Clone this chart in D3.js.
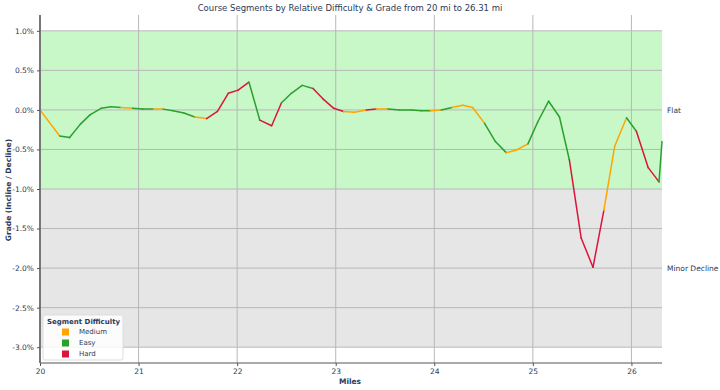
<!DOCTYPE html>
<html>
<head>
<meta charset="utf-8">
<script src="https://cdn.jsdelivr.net/npm/d3@7"></script>
<style>
  body { margin: 0; background: #fff; }
  svg { font-family: "DejaVu Sans", sans-serif; }
</style>
</head>
<body>
<script>
// mile marker, grade (%) and difficulty of the segment that starts there
var miles = [20.00,20.20,20.30,20.41,20.51,20.62,20.72,20.82,20.94,21.04,21.15,21.25,21.35,21.46,21.57,21.69,21.80,21.91,22.01,22.12,
             22.23,22.35,22.45,22.55,22.66,22.77,22.87,22.98,23.08,23.19,23.31,23.41,23.53,23.65,23.77,23.87,23.96,24.07,24.18,24.29,
             24.39,24.51,24.62,24.73,24.83,24.95,25.05,25.16,25.27,25.37,25.49,25.61,25.72,25.83,25.95,26.05,26.17,26.28,26.31];
var grades = [0.00,-0.33,-0.35,-0.18,-0.06,0.02,0.04,0.03,0.02,0.01,0.01,0.01,-0.01,-0.04,-0.09,-0.11,-0.02,0.21,0.25,0.35,
              -0.13,-0.20,0.09,0.21,0.31,0.27,0.14,0.02,-0.02,-0.03,0.00,0.01,0.01,0.00,0.00,-0.01,-0.01,0.00,0.03,0.06,
              0.03,-0.17,-0.40,-0.54,-0.51,-0.43,-0.15,0.11,-0.09,-0.63,-1.62,-1.99,-1.27,-0.46,-0.10,-0.27,-0.73,-0.91,-0.40];
var difficulty = ["Medium","Easy","Easy","Easy","Easy","Easy","Easy","Medium","Easy","Easy","Medium","Easy","Easy","Easy","Medium","Hard","Hard","Hard","Hard","Easy",
                  "Hard","Hard","Easy","Easy","Easy","Hard","Hard","Hard","Medium","Medium","Hard","Medium","Easy","Easy","Easy","Easy","Medium","Easy","Medium","Medium",
                  "Medium","Easy","Easy","Medium","Medium","Easy","Easy","Easy","Easy","Hard","Hard","Hard","Medium","Medium","Easy","Hard","Hard","Easy"];

var legendNames = ["Medium","Easy","Hard"];
var legendColors = ["#ffa500","#2ca02c","#dc143c"];

var bandNames = ["Flat","Minor Decline"];
var bandLow = [-1.0,-3.0];
var bandHigh = [1.0,-1.0];
var bandColors = ["#c8f7c8","#e6e6e6"];

var xTicks = [20,21,22,23,24,25,26];
var yTicks = [1.0,0.5,0.0,-0.5,-1.0,-1.5,-2.0,-2.5,-3.0];

var width = 720, height = 390;
var margin = {left:40, right:58, top:15, bottom:27};
var textColor = "#2a3a5a";

var x = d3.scaleLinear().domain([20,26.31]).range([margin.left, width-margin.right]);
var y = d3.scaleLinear().domain([-3.2,1.2]).range([height-margin.bottom, margin.top]);
var color = d3.scaleOrdinal().domain(legendNames).range(legendColors);

var svg = d3.select("body").append("svg").attr("width",width).attr("height",height);

// background bands
svg.selectAll("rect.band").data(bandNames).enter().append("rect")
   .attr("class","band")
   .attr("x", x(20)).attr("width", x(26.31)-x(20))
   .attr("y", function(d,i){ return y(bandHigh[i]); })
   .attr("height", function(d,i){ return y(bandLow[i]) - y(bandHigh[i]); })
   .attr("fill", function(d,i){ return bandColors[i]; });

// grid
svg.append("g").selectAll("line").data(xTicks).enter().append("line")
   .attr("x1",function(d){ return x(d); }).attr("x2",function(d){ return x(d); })
   .attr("y1", margin.top).attr("y2", height-margin.bottom)
   .attr("stroke","#b8b8b8").attr("stroke-width",1);
svg.append("g").selectAll("line").data(yTicks).enter().append("line")
   .attr("y1",function(d){ return y(d); }).attr("y2",function(d){ return y(d); })
   .attr("x1", margin.left).attr("x2", x(26.31))
   .attr("stroke","#b8b8b8").attr("stroke-width",1);

// band labels on the right
svg.selectAll("text.bandlabel").data(bandNames).enter().append("text")
   .attr("class","bandlabel")
   .attr("x", x(26.31)+5)
   .attr("y", function(d,i){ return y((bandLow[i]+bandHigh[i])/2); })
   .attr("dy","0.35em")
   .attr("font-size",7.5).attr("fill",textColor)
   .text(function(d){ return d; });

// line segments coloured by difficulty
var segs = difficulty.map(function(d,i){ return {d:d, i:i}; });
svg.append("g").selectAll("line").data(segs).enter().append("line")
   .attr("x1",function(s){ return x(miles[s.i]); })
   .attr("y1",function(s){ return y(grades[s.i]); })
   .attr("x2",function(s){ return x(miles[s.i+1]); })
   .attr("y2",function(s){ return y(grades[s.i+1]); })
   .attr("stroke",function(s){ return color(s.d); })
   .attr("stroke-width",1.5)
   .attr("stroke-linecap","round");

// axes
var xAxis = d3.axisBottom(x).tickValues(xTicks).tickSize(3).tickPadding(3).tickFormat(d3.format("d"));
var yAxis = d3.axisLeft(y).tickValues(yTicks).tickSize(3).tickPadding(3).tickFormat(function(d){ return d.toFixed(1)+"%"; });

var gx = svg.append("g").attr("transform","translate(0,"+(height-margin.bottom)+")").call(xAxis);
var gy = svg.append("g").attr("transform","translate("+margin.left+",0)").call(yAxis);
gx.select(".domain").attr("stroke","#555").attr("d","M"+margin.left+",0H"+x(26.31));
gy.select(".domain").attr("stroke","#777").attr("stroke-width",2).attr("d","M0,"+margin.top+"V"+(height-margin.bottom));
[gx,gy].forEach(function(g){
  g.selectAll(".tick line").attr("stroke","#555");
  g.selectAll(".tick text").attr("fill",textColor).attr("font-size",7.5).attr("font-family","DejaVu Sans, sans-serif");
});

// titles
svg.append("text").attr("x",350).attr("y",11).attr("text-anchor","middle")
   .attr("font-size",8.5).attr("fill",textColor)
   .text("Course Segments by Relative Difficulty & Grade from 20 mi to 26.31 mi");
svg.append("text").attr("x",350).attr("y",384).attr("text-anchor","middle")
   .attr("font-size",7.5).attr("font-weight","bold").attr("fill",textColor).text("Miles");
svg.append("text").attr("transform","translate(8,190) rotate(-90)").attr("text-anchor","middle")
   .attr("dy","0.35em")
   .attr("font-size",7.5).attr("font-weight","bold").attr("fill",textColor).text("Grade (Incline / Decline)");

// legend
var lg = svg.append("g").attr("transform","translate(43,315)");
lg.append("rect").attr("width",80).attr("height",45).attr("rx",2)
  .attr("fill","#fff").attr("fill-opacity",0.85).attr("stroke","#ddd");
lg.append("text").attr("x",4).attr("y",9).attr("font-size",7).attr("font-weight","bold")
  .attr("fill",textColor).text("Segment Difficulty");
var items = lg.selectAll("g.item").data(legendNames).enter().append("g")
  .attr("transform",function(d,i){ return "translate(0,"+(17+i*11)+")"; });
items.append("rect").attr("x",19).attr("y",-3.5).attr("width",7).attr("height",7)
  .attr("fill",function(d){ return color(d); });
items.append("text").attr("x",36).attr("dy","0.35em").attr("font-size",7)
  .attr("fill",textColor).text(function(d){ return d; });
</script>
</body>
</html>
